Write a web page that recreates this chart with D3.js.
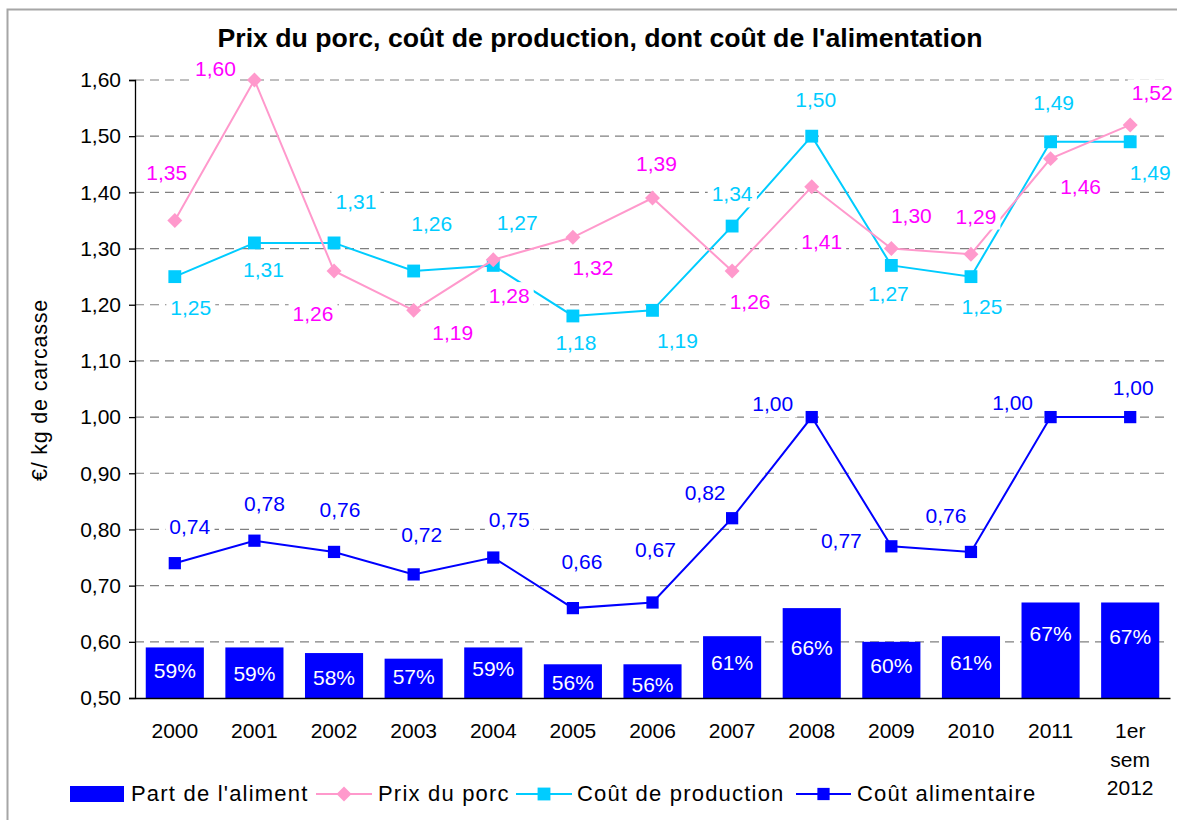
<!DOCTYPE html>
<html>
<head>
<meta charset="utf-8">
<script src="https://cdn.jsdelivr.net/npm/d3@7"></script>
<style>
  html, body { margin: 0; padding: 0; background: #fff; }
  svg { display: block; font-family: "Liberation Sans", Arial, sans-serif; }
</style>
</head>
<body>
<svg id="chart" width="1177" height="820"></svg>
<script>
// Categories and series
const categories = ["2000", "2001", "2002", "2003", "2004", "2005", "2006", "2007", "2008", "2009", "2010", "2011", "1er\nsem\n2012"];
const partAliment = [59, 59, 58, 57, 59, 56, 56, 61, 66, 60, 61, 67, 67];          // %
const prixPorc = [1.35, 1.60, 1.26, 1.19, 1.28, 1.32, 1.39, 1.26, 1.41, 1.30, 1.29, 1.46, 1.52];
const coutProduction = [1.25, 1.31, 1.31, 1.26, 1.27, 1.18, 1.19, 1.34, 1.50, 1.27, 1.25, 1.49, 1.49];
const coutAlimentaire = [0.74, 0.78, 0.76, 0.72, 0.75, 0.66, 0.67, 0.82, 1.00, 0.77, 0.76, 1.00, 1.00];
const yTicks = [0.50, 0.60, 0.70, 0.80, 0.90, 1.00, 1.10, 1.20, 1.30, 1.40, 1.50, 1.60];

// Label placement (offset of each value label from its point, px)
const prixLabelOffset = [[-8,-48],[-39,-11],[-21,43],[39,22],[16,36],[20,30],[4,-34],[18,31],[10,55],[20,-33],[5,-38],[30,28],[22,-32]];
const prodLabelOffset = [[16,31],[9,27],[22,-41],[18,-47],[24,-43],[3,27],[25,30],[0,-32],[4,-37],[-3,28],[11,30],[3,-39],[20,31]];
const alimLabelOffset = [[15,-37],[10,-37],[6,-42],[8,-40],[16,-38],[9,-46],[3,-53],[-27,-26],[-39,-13],[-50,-6],[-25,-36],[-38,-14],[3,-29]];
const barLabelOffset = [23,26,25,18,21,18,20,26,40,24,26,31,34];

const C = {
  bar: "#0000FF",
  pinkLine: "#FF99CC", pinkText: "#FF00FF",
  cyan: "#00CCFF",
  blue: "#0000FF",
  grid: "#808080"
};

const svg = d3.select("#chart");
const fmt = v => d3.format(".2f")(v).replace(".", ",");

// Outer frame
svg.append("rect").attr("x", 7.5).attr("y", 9.5).attr("width", 1185).attr("height", 830)
  .attr("fill", "#fff").attr("stroke", "#A6A6A6").attr("stroke-width", 2);

// Title
svg.append("text").attr("x", 600).attr("y", 47).attr("text-anchor", "middle")
  .attr("font-size", 25).attr("font-weight", "bold").attr("fill", "#000")
  .attr("textLength", 765).attr("lengthAdjust", "spacingAndGlyphs")
  .text("Prix du porc, coût de production, dont coût de l'alimentation");

// Scales
const x = d3.scaleBand().domain(categories).range([135, 1170]).paddingInner(0.27).paddingOuter(0.135);
const y = d3.scaleLinear().domain([0.5, 1.6]).range([698, 80]);
const cx = c => x(c) + x.bandwidth() / 2;

// Gridlines
svg.append("g").selectAll("line").data(yTicks.filter(t => t > 0.5)).join("line")
  .attr("x1", 135).attr("x2", 1170)
  .attr("y1", d => y(d)).attr("y2", d => y(d))
  .attr("stroke", C.grid).attr("stroke-width", 1.2).attr("stroke-dasharray", "9,6");

// Bars: share of feed in the cost, drawn on the same axis (59% -> 0.59)
svg.append("g").selectAll("rect").data(categories).join("rect")
  .attr("x", d => x(d)).attr("width", x.bandwidth())
  .attr("y", (d, i) => y(partAliment[i] / 100))
  .attr("height", (d, i) => y(0.5) - y(partAliment[i] / 100))
  .attr("fill", C.bar);

svg.append("g").selectAll("text").data(categories).join("text")
  .attr("x", d => cx(d))
  .attr("y", (d, i) => y(partAliment[i] / 100) + barLabelOffset[i])
  .attr("dy", "0.35em").attr("text-anchor", "middle")
  .attr("font-size", 21).attr("fill", "#fff")
  .text((d, i) => partAliment[i] + "%");

// Axes
const yAxis = d3.axisLeft(y).tickValues(yTicks).tickFormat(fmt).tickSizeOuter(0).tickSize(6).tickPadding(8);
const gy = svg.append("g").attr("transform", "translate(135,0)").call(yAxis);
gy.select(".domain").attr("stroke", "#000").attr("stroke-width", 1.3);
gy.selectAll(".tick line").attr("stroke", "#000").attr("stroke-width", 1.3);
gy.selectAll(".tick text").attr("font-size", 21).attr("fill", "#000").attr("font-family", "Liberation Sans, Arial, sans-serif");

const xAxis = d3.axisBottom(x).tickSize(0).tickSizeOuter(0).tickPadding(0);
const gx = svg.append("g").attr("transform", "translate(0,698)").call(xAxis);
gx.select(".domain").attr("stroke", "#000").attr("stroke-width", 1.3);
gx.selectAll(".tick text").each(function(d) {
  const t = d3.select(this).text(null)
    .attr("font-size", 21).attr("fill", "#000").attr("font-family", "Liberation Sans, Arial, sans-serif")
    .attr("y", 0).attr("dy", null);
  d.split("\n").forEach((line, k) => {
    t.append("tspan").attr("x", 0).attr("y", 40 + k * 28.5).text(line);
  });
});

// Y axis title
svg.append("text").attr("transform", "translate(47,390) rotate(-90)")
  .attr("text-anchor", "middle").attr("font-size", 21.5).attr("letter-spacing", 0.8)
  .attr("fill", "#000").text("€/ kg de carcasse");

// Markers
const diamond = {
  draw(ctx, size) {
    const r = Math.sqrt(size) / 2 * 1.2;
    ctx.moveTo(0, -r); ctx.lineTo(r, 0); ctx.lineTo(0, r); ctx.lineTo(-r, 0); ctx.closePath();
  }
};

// Lines
const lineGen = vals => d3.line().x((d, i) => cx(categories[i])).y(d => y(d))(vals);

function drawSeries(vals, stroke, marker, size) {
  const g = svg.append("g");
  g.append("path").attr("d", lineGen(vals)).attr("fill", "none")
    .attr("stroke", stroke).attr("stroke-width", 2);
  const sym = d3.symbol().type(marker).size(size);
  g.selectAll("path.m").data(vals).join("path").attr("class", "m")
    .attr("transform", (d, i) => `translate(${cx(categories[i])},${y(d)})`)
    .attr("d", sym).attr("fill", stroke);
}

drawSeries(coutAlimentaire, C.blue, d3.symbolSquare, 150);
drawSeries(coutProduction, C.cyan, d3.symbolSquare, 165);
drawSeries(prixPorc, C.pinkLine, diamond, 155);

// Value labels with white boxes
function drawLabels(vals, offsets, color) {
  const g = svg.append("g");
  vals.forEach((v, i) => {
    const px = cx(categories[i]) + offsets[i][0];
    const py = y(v) + offsets[i][1];
    const box = g.append("rect").attr("fill", "#fff");
    const t = g.append("text").attr("x", px).attr("y", py).attr("dy", "0.35em")
      .attr("text-anchor", "middle").attr("font-size", 21).attr("fill", color)
      .text(fmt(v));
    const b = t.node().getBBox();
    box.attr("x", b.x - 4).attr("y", b.y - 2).attr("width", b.width + 8).attr("height", b.height + 4);
  });
}
drawLabels(prixPorc, prixLabelOffset, C.pinkText);
drawLabels(coutProduction, prodLabelOffset, C.cyan);
drawLabels(coutAlimentaire, alimLabelOffset, C.blue);

// Legend
const lg = svg.append("g").attr("font-size", 22).attr("letter-spacing", 1.2).attr("fill", "#000");
lg.append("rect").attr("x", 70).attr("y", 786).attr("width", 54).attr("height", 16).attr("fill", C.bar);
lg.append("text").attr("x", 131).attr("y", 801).text("Part de l'aliment");

const legendLines = [
  { x1: 316, x2: 372, color: C.pinkLine, marker: diamond, size: 155, tx: 378, label: "Prix du porc" },
  { x1: 516, x2: 572, color: C.cyan, marker: d3.symbolSquare, size: 165, tx: 577, label: "Coût de production" },
  { x1: 796, x2: 851, color: C.blue, marker: d3.symbolSquare, size: 150, tx: 857, label: "Coût alimentaire" }
];
legendLines.forEach(l => {
  lg.append("line").attr("x1", l.x1).attr("x2", l.x2).attr("y1", 794).attr("y2", 794)
    .attr("stroke", l.color).attr("stroke-width", 2);
  lg.append("path").attr("transform", `translate(${(l.x1 + l.x2) / 2},794)`)
    .attr("d", d3.symbol().type(l.marker).size(l.size)).attr("fill", l.color);
  lg.append("text").attr("x", l.tx).attr("y", 801).text(l.label);
});
</script>
</body>
</html>
